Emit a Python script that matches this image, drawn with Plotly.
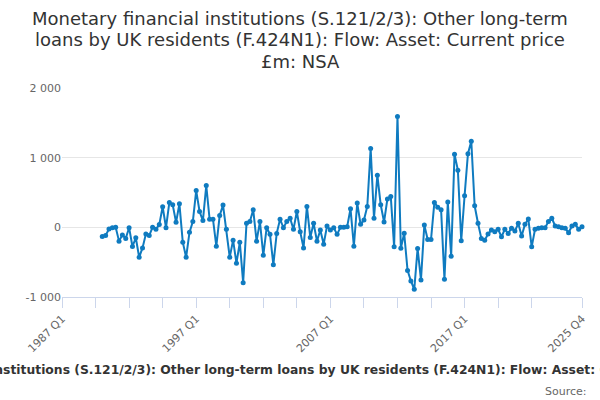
import plotly.graph_objects as go

title_lines = [
    "Monetary financial institutions (S.121/2/3): Other long-term",
    "loans by UK residents (F.424N1): Flow: Asset: Current price",
    "£m: NSA",
]
axis_title = ("Monetary financial institutions (S.121/2/3): Other long-term loans by UK "
              "residents (F.424N1): Flow: Asset: Current price £m: NSA")

quarters = [f"{y} Q{q}" for y in range(1987, 2026) for q in range(1, 5)]
first_data_quarter = "1990 Q1"

values = [
    -130, -116, -24, -5, 0, -198, -111, -159, -5, -275,
    -150, -430, -295, -97, -116, 0, -29, 39, 295, -5,
    357, 324, 72, 338, -213, -430, -72, 82, 527, 227,
    97, 599, 116, 116, -270, 169, 319, -29, -430, -184,
    -515, -215, -795, 58, 82, 251, -198, 82, -401, -5,
    -101, -536, -87, 116, -5, 82, 130, -29, 227, -63,
    -295, 300, -145, 58, -198, -39, -242, 19, -39, -5,
    -101, 0, 0, 10, 266, -271, 348, 43, 106, 300,
    1130, 130, 749, 324, 77, 408, 444, -280, 1590, -300,
    -85, -618, -770, -890, -304, -755, 34, -174, -174, 357,
    290, 251, -745, 362, -415, 1050, 821, -193, 454, 1058,
    1235, 309, 58, -159, -184, -97, -39, -63, -29, -135,
    -29, -87, -14, -53, 58, -126, 43, 121, -280, -29,
    -14, -5, -5, 82, 130, 19, 10, -5, -14, -77,
    19, 43, -29, 10,
]

x_tick_labels = {"1987 Q1": "1987 Q1", "1997 Q1": "1997 Q1", "2007 Q1": "2007 Q1",
                 "2017 Q1": "2017 Q1", "2025 Q4": "2025 Q4"}
x_tick_positions = quarters[0:150:10] + ["2025 Q4"]

y_tick_vals = [-1000, 0, 1000, 2000]
y_tick_text = ["-1 000", "0", "1 000", "2 000"]

start = quarters.index(first_data_quarter)
x_data = quarters[start:start + len(values)]

line_color = "#0f7bc0"
font_family = "DejaVu Sans"

# layout geometry (pixels)
L, R, T, B = 62, 18, 88, 103
W, H = 600, 400
PW, PH = W - L - R, H - T - B


def px_x(x):
    return (x - L) / PW


def px_y(y):
    return (H - B - y) / PH


fig = go.Figure()
fig.add_trace(go.Scatter(
    x=x_data, y=values, mode="lines+markers",
    line=dict(color=line_color, width=2),
    marker=dict(color=line_color, size=5),
    cliponaxis=False, showlegend=False,
))

annotations = []
for k, (line, ypix) in enumerate(zip(title_lines, [18.5, 40, 61])):
    annotations.append(dict(
        text=line, xref="paper", yref="paper", x=px_x(300), y=px_y(ypix),
        xanchor="center", yanchor="middle", showarrow=False,
        font=dict(family=font_family, size=18, color="#333333")))
annotations.append(dict(
    text="<b>" + axis_title + "</b>", xref="paper", yref="paper",
    x=px_x(306), y=px_y(370), xanchor="center", yanchor="middle",
    showarrow=False, font=dict(family=font_family, size=12.35, color="#333333")))
annotations.append(dict(
    text="Source:", xref="paper", yref="paper",
    x=px_x(589), y=px_y(391), xanchor="right", yanchor="middle",
    showarrow=False, font=dict(family=font_family, size=11, color="#666666")))

fig.update_layout(
    width=W, height=H,
    margin=dict(l=L, r=R, t=T, b=B),
    paper_bgcolor="white", plot_bgcolor="white",
    font=dict(family=font_family, color="#666666", size=11),
    hovermode=False,
    xaxis=dict(
        type="category", categoryorder="array", categoryarray=quarters,
        range=[0, len(quarters) - 1],
        tickmode="array", tickvals=x_tick_positions,
        ticktext=[x_tick_labels.get(q, "") for q in x_tick_positions],
        tickangle=-45, ticks="outside", ticklen=10, tickcolor="#ccd6eb",
        showline=True, linecolor="#ccd6eb", linewidth=1,
        showgrid=False, zeroline=False,
        tickfont=dict(size=11, color="#666666"),
    ),
    yaxis=dict(
        range=[-1000, 2000], tickmode="array", tickvals=y_tick_vals, ticktext=y_tick_text,
        showgrid=True, gridcolor="#e6e6e6", gridwidth=1, zeroline=False,
        showline=False, ticks="", tickfont=dict(size=11, color="#666666"),
    ),
    annotations=annotations,
)

fig.write_html("out.html", config={"displayModeBar": False, "staticPlot": True})

# remove the default body margin so the figure sits at the window's top-left corner
with open("out.html", encoding="utf-8") as f:
    html = f.read()
html = html.replace("<head>", "<head><style>html,body{margin:0;padding:0;overflow:hidden;}</style>", 1)
with open("out.html", "w", encoding="utf-8") as f:
    f.write(html)
